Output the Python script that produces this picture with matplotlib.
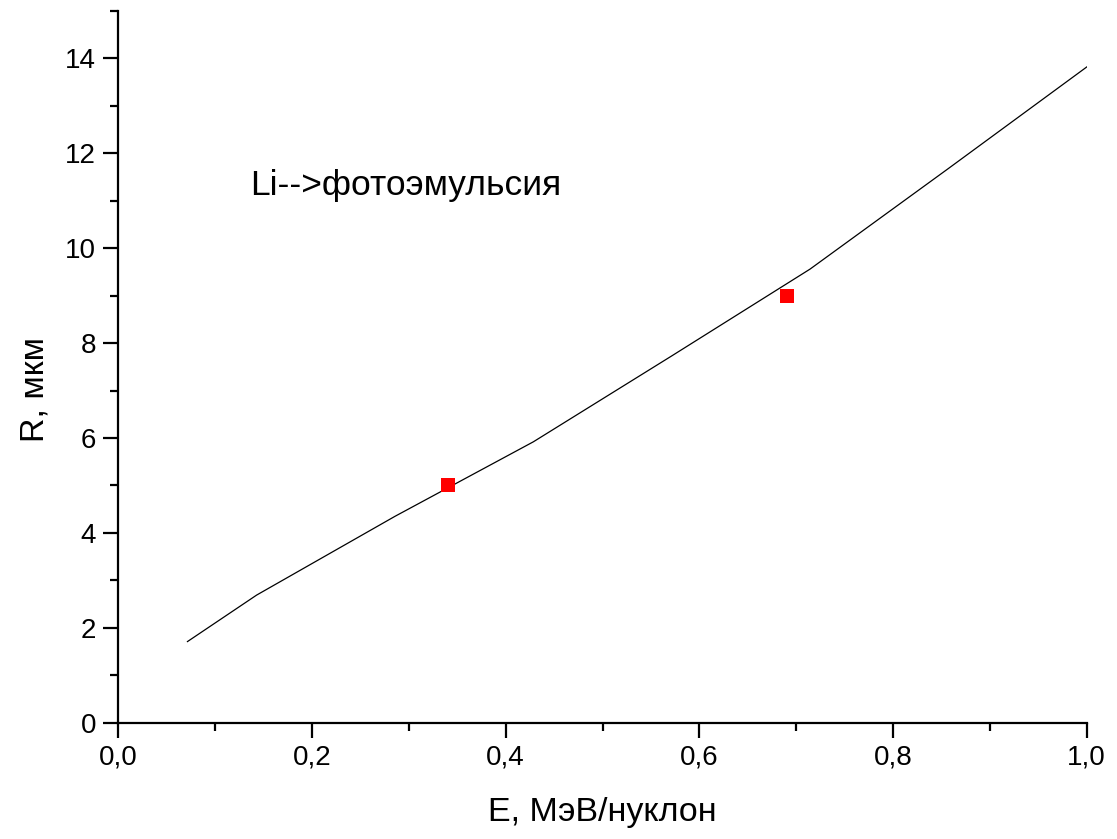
import matplotlib
matplotlib.use("Agg")
import matplotlib.pyplot as plt
from matplotlib.ticker import MultipleLocator, FuncFormatter

plt.rcParams['font.family'] = ['Liberation Sans', 'DejaVu Sans']

# Calculated range curve (Li in photoemulsion)
energy_calc = [0.5/7, 1/7, 2/7, 3/7, 4/7, 5/7, 6/7, 7/7]
range_calc = [1.71, 2.69, 4.35, 5.92, 7.73, 9.56, 11.68, 13.82]

# Measured points
energy_exp = [0.34, 0.69]
range_exp = [5.0, 9.0]

annotation = "Li-->фотоэмульсия"
xlabel = "E, МэВ/нуклон"
ylabel = "R, мкм"

fig = plt.figure(figsize=(11.17, 8.39), dpi=100)
ax = fig.add_axes([0.1059, 0.1386, 0.8670, 0.8483])

ax.plot(energy_calc, range_calc, color='black', linewidth=0.9)
ax.plot(energy_exp, range_exp, linestyle='none', marker='s', markersize=10.5,
        color='#ff0000', markeredgewidth=0)

ax.set_xlim(0, 1.0)
ax.set_ylim(0, 15)

ax.spines['top'].set_visible(False)
ax.spines['right'].set_visible(False)
for s in ('left', 'bottom'):
    ax.spines[s].set_linewidth(1.6)

ax.xaxis.set_major_locator(MultipleLocator(0.2))
ax.xaxis.set_minor_locator(MultipleLocator(0.1))
ax.yaxis.set_minor_locator(MultipleLocator(1))
ax.set_yticks(list(range(0, 15, 2)))
ax.xaxis.set_major_formatter(FuncFormatter(lambda v, p: f"{v:.1f}".replace('.', ',')))
ax.yaxis.set_major_formatter(FuncFormatter(lambda v, p: f"{int(round(v))}"))

ax.tick_params(which='major', direction='out', length=11, width=1.6, labelsize=20, pad=5)
ax.tick_params(which='minor', direction='out', length=6, width=1.6)

ax.set_xlabel(xlabel, fontsize=24.5)
ax.set_ylabel(ylabel, fontsize=24.5)
ax.xaxis.set_label_coords(0.5, -0.105)
ax.yaxis.set_label_coords(-0.070, 0.4675)

ax.text(0.136, 11.12, annotation, fontsize=25.5, color='black', ha='left', va='baseline')

fig.savefig("out.png", dpi=100, facecolor='white')
